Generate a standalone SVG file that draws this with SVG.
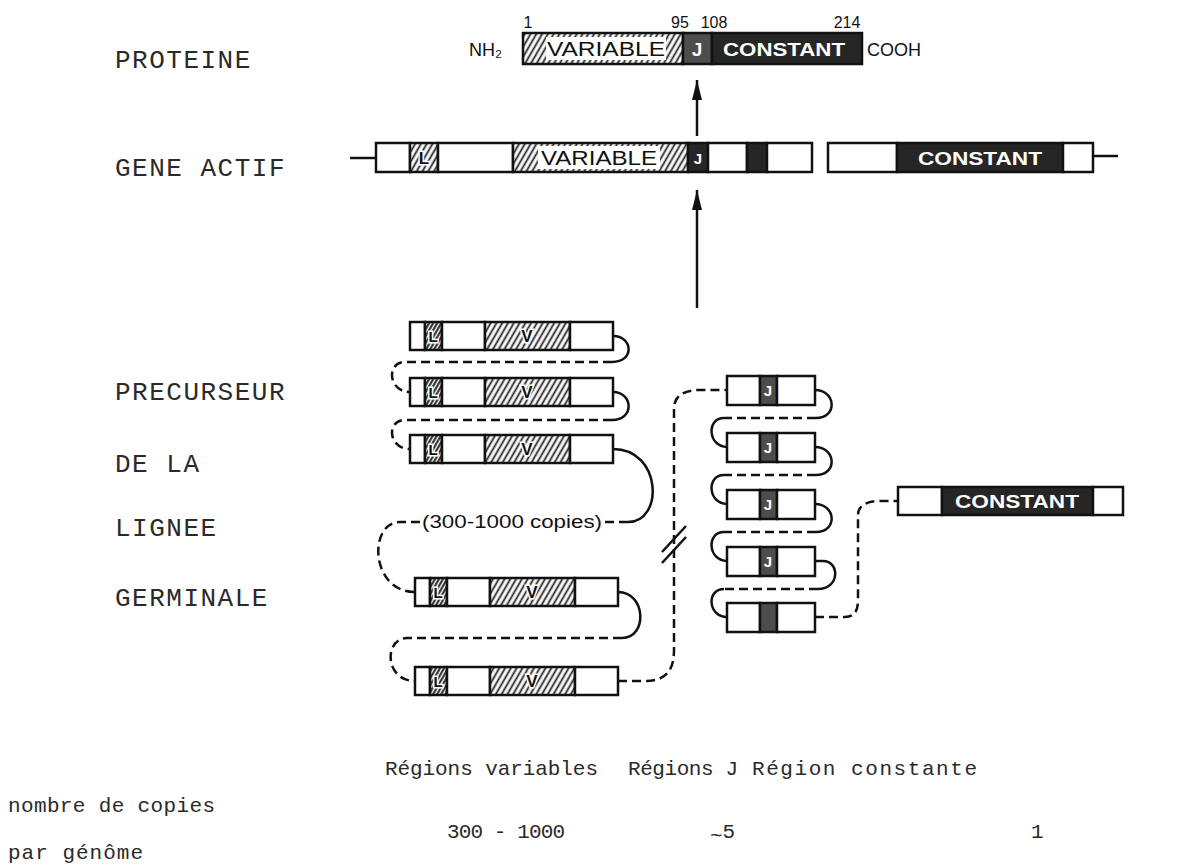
<svg xmlns="http://www.w3.org/2000/svg" width="1196" height="866" viewBox="0 0 1196 866">
<defs>
<pattern id="hatch" patternUnits="userSpaceOnUse" width="5" height="5" patternTransform="rotate(30)">
<rect width="5" height="5" fill="#fff"/>
<line x1="1.5" y1="0" x2="1.5" y2="5" stroke="#222" stroke-width="1.8"/>
</pattern>
<pattern id="hatchd" patternUnits="userSpaceOnUse" width="3.5" height="3.5" patternTransform="rotate(30)">
<rect width="3.5" height="3.5" fill="#fff"/>
<line x1="1.2" y1="0" x2="1.2" y2="3.5" stroke="#222" stroke-width="2"/>
</pattern>
<marker id="ah" viewBox="0 0 20 12" refX="20" refY="6" markerWidth="20" markerHeight="12" markerUnits="userSpaceOnUse" orient="auto">
<path d="M0,1 L20,6 L0,11 z" fill="#111"/>
</marker>
</defs>
<style>
.w{fill:#fff;stroke:#111;stroke-width:2.5}
.h{fill:url(#hatch);stroke:#111;stroke-width:2.5}
.hd{fill:url(#hatchd);stroke:#111;stroke-width:2.5}
.d{fill:#262626;stroke:#111;stroke-width:2.5}
.m{fill:#4d4d4d;stroke:#111;stroke-width:2.5}
.sol{fill:none;stroke:#111;stroke-width:2.5}
.das{fill:none;stroke:#111;stroke-width:2.5;stroke-dasharray:9 5}
.lbl{font-family:"Liberation Mono",monospace;font-size:26px;letter-spacing:1.5px;fill:#2a2a2a}
.bot{font-family:"Liberation Mono",monospace;font-size:21px;fill:#2a2a2a}
.num{font-family:"Liberation Sans",Arial,sans-serif;font-size:16px;fill:#111}
.big{font-family:"Liberation Sans",Arial,sans-serif;font-size:18px;fill:#111}
.var{font-family:"Liberation Sans",Arial,sans-serif;font-size:20px;fill:#111}
.wt{font-family:"Liberation Sans",Arial,sans-serif;font-size:19px;font-weight:bold;fill:#fff}
.wj{font-family:"Liberation Sans",Arial,sans-serif;font-size:15px;font-weight:bold;fill:#fff}
.sm{font-family:"Liberation Sans",Arial,sans-serif;font-size:17px;font-weight:bold;fill:#111;stroke:#fff;stroke-width:3;paint-order:stroke}
.sl{font-family:"Liberation Sans",Arial,sans-serif;font-size:15px;font-weight:bold;fill:#111;stroke:#fff;stroke-width:3;paint-order:stroke}
</style>
<rect width="1196" height="866" fill="#fff"/>

<g id="labels">
<text class="lbl" x="115" y="68">PROTEINE</text>
<text class="lbl" x="115" y="176">GENE ACTIF</text>
<text class="lbl" x="115" y="400">PRECURSEUR</text>
<text class="lbl" x="115" y="472">DE LA</text>
<text class="lbl" x="115" y="536">LIGNEE</text>
<text class="lbl" x="115" y="606">GERMINALE</text>
<text class="bot" x="385" y="775" textLength="213">Régions variables</text>
<text class="bot" x="628" y="775" textLength="110">Régions J</text>
<text class="bot" x="752" y="775" textLength="225">Région constante</text>
<text class="bot" x="8" y="812" textLength="207">nombre de copies</text>
<text class="bot" x="8" y="859" textLength="135">par génôme</text>
<text class="bot" x="447" y="838" textLength="118">300 - 1000</text>
<text class="bot" x="710" y="838"><tspan dy="4">~</tspan><tspan dy="-4">5</tspan></text>
<text class="bot" x="1031" y="838">1</text>
</g>

<g id="proteine">
<rect class="h" x="523" y="33" width="160" height="31"/>
<rect x="546" y="37" width="120" height="23" fill="#fff"/>
<text class="var" x="606" y="56" text-anchor="middle" textLength="118" lengthAdjust="spacingAndGlyphs">VARIABLE</text>
<rect class="m" x="683" y="33" width="29" height="31"/>
<text class="wt" x="697" y="56" text-anchor="middle">J</text>
<rect class="d" x="712" y="33" width="150" height="31"/>
<text class="wt" x="784" y="56" text-anchor="middle" textLength="122" lengthAdjust="spacingAndGlyphs">CONSTANT</text>
<text class="num" x="528" y="28" text-anchor="middle">1</text>
<text class="num" x="680" y="28" text-anchor="middle">95</text>
<text class="num" x="714" y="28" text-anchor="middle">108</text>
<text class="num" x="847" y="28" text-anchor="middle">214</text>
<text class="big" x="469" y="56">NH₂</text>
<text class="big" x="867" y="56">COOH</text>
</g>

<g id="gene-actif">
<line class="sol" x1="350" y1="158" x2="376" y2="158"/>
<rect class="w" x="376" y="143" width="34" height="29"/>
<rect class="h" x="410" y="143" width="28" height="29"/>
<text class="sm" x="424" y="164" text-anchor="middle">L</text>
<rect class="w" x="438" y="143" width="75" height="29"/>
<rect class="h" x="513" y="143" width="175" height="29"/>
<rect x="538" y="146" width="122" height="23" fill="#fff"/>
<text class="var" x="599" y="165" text-anchor="middle" textLength="116" lengthAdjust="spacingAndGlyphs">VARIABLE</text>
<rect class="d" x="688" y="143" width="20" height="29"/>
<text class="wj" x="698" y="164" text-anchor="middle">J</text>
<rect class="w" x="708" y="143" width="39" height="29"/>
<rect class="d" x="747" y="143" width="20" height="29"/>
<rect class="w" x="767" y="143" width="45" height="29"/>
<rect class="w" x="828" y="143" width="69" height="29"/>
<rect class="d" x="897" y="143" width="166" height="29"/>
<text class="wt" x="980" y="165" text-anchor="middle" textLength="124" lengthAdjust="spacingAndGlyphs">CONSTANT</text>
<rect class="w" x="1063" y="143" width="30" height="29"/>
<line class="sol" x1="1093" y1="156" x2="1118" y2="156"/>
</g>

<g id="v1">
<rect class="w" x="410" y="322" width="15" height="28"/>
<rect class="hd" x="425" y="322" width="17" height="28"/>
<text class="sl" x="433" y="342" text-anchor="middle">L</text>
<rect class="w" x="442" y="322" width="43" height="28"/>
<rect class="h" x="485" y="322" width="85" height="28"/>
<text class="sm" x="527" y="342" text-anchor="middle">V</text>
<rect class="w" x="570" y="322" width="43" height="28"/>
</g>
<g id="v2">
<rect class="w" x="410" y="378" width="15" height="28"/>
<rect class="hd" x="425" y="378" width="17" height="28"/>
<text class="sl" x="433" y="398" text-anchor="middle">L</text>
<rect class="w" x="442" y="378" width="43" height="28"/>
<rect class="h" x="485" y="378" width="85" height="28"/>
<text class="sm" x="527" y="398" text-anchor="middle">V</text>
<rect class="w" x="570" y="378" width="43" height="28"/>
</g>
<g id="v3">
<rect class="w" x="410" y="435" width="15" height="28"/>
<rect class="hd" x="425" y="435" width="17" height="28"/>
<text class="sl" x="433" y="455" text-anchor="middle">L</text>
<rect class="w" x="442" y="435" width="43" height="28"/>
<rect class="h" x="485" y="435" width="85" height="28"/>
<text class="sm" x="527" y="455" text-anchor="middle">V</text>
<rect class="w" x="570" y="435" width="43" height="28"/>
</g>
<g id="v4">
<rect class="w" x="415" y="578" width="15" height="28"/>
<rect class="hd" x="430" y="578" width="17" height="28"/>
<text class="sl" x="438" y="598" text-anchor="middle">L</text>
<rect class="w" x="447" y="578" width="43" height="28"/>
<rect class="h" x="490" y="578" width="85" height="28"/>
<text class="sm" x="532" y="598" text-anchor="middle">V</text>
<rect class="w" x="575" y="578" width="43" height="28"/>
</g>
<g id="v5">
<rect class="w" x="415" y="667" width="15" height="28"/>
<rect class="hd" x="430" y="667" width="17" height="28"/>
<text class="sl" x="438" y="687" text-anchor="middle">L</text>
<rect class="w" x="447" y="667" width="43" height="28"/>
<rect class="h" x="490" y="667" width="85" height="28"/>
<text class="sm" x="532" y="687" text-anchor="middle">V</text>
<rect class="w" x="575" y="667" width="43" height="28"/>
</g>

<g id="j1">
<rect class="w" x="727" y="376" width="33" height="29"/>
<rect class="m" x="760" y="376" width="17" height="29"/>
<text class="wj" x="768" y="396" text-anchor="middle">J</text>
<rect class="w" x="777" y="376" width="38" height="29"/>
</g>
<g id="j2">
<rect class="w" x="727" y="433" width="33" height="29"/>
<rect class="m" x="760" y="433" width="17" height="29"/>
<text class="wj" x="768" y="453" text-anchor="middle">J</text>
<rect class="w" x="777" y="433" width="38" height="29"/>
</g>
<g id="j3">
<rect class="w" x="727" y="490" width="33" height="29"/>
<rect class="m" x="760" y="490" width="17" height="29"/>
<text class="wj" x="768" y="510" text-anchor="middle">J</text>
<rect class="w" x="777" y="490" width="38" height="29"/>
</g>
<g id="j4">
<rect class="w" x="727" y="547" width="33" height="29"/>
<rect class="m" x="760" y="547" width="17" height="29"/>
<text class="wj" x="768" y="567" text-anchor="middle">J</text>
<rect class="w" x="777" y="547" width="38" height="29"/>
</g>
<g id="j5">
<rect class="w" x="727" y="603" width="33" height="29"/>
<rect class="m" x="760" y="603" width="17" height="29"/>
<rect class="w" x="777" y="603" width="38" height="29"/>
</g>

<g id="constante">
<rect class="w" x="898" y="487" width="44" height="28"/>
<rect class="d" x="942" y="487" width="151" height="28"/>
<text class="wt" x="1017" y="508" text-anchor="middle" textLength="124" lengthAdjust="spacingAndGlyphs">CONSTANT</text>
<rect class="w" x="1093" y="487" width="30" height="28"/>
</g>

<g id="connectors">
<line class="sol" x1="697" y1="136" x2="697" y2="80" marker-end="url(#ah)"/>
<line class="sol" x1="697" y1="308" x2="697" y2="190" marker-end="url(#ah)"/>
<path class="sol" d="M613,336 C633,336 635,362 612,362"/>
<path class="das" d="M612,362 L405,362 C386,362 388,392 410,392"/>
<path class="sol" d="M613,392 C633,392 635,420 612,420"/>
<path class="das" d="M612,420 L405,420 C386,420 388,449 410,449"/>
<path class="sol" d="M613,449 C662,449 664,522 628,522"/>
<path class="das" d="M628,522 L604,522"/>
<text class="big" x="512" y="528" text-anchor="middle" textLength="180" lengthAdjust="spacingAndGlyphs">(300-1000 copies)</text>
<path class="das" d="M420,522 L400,522 C368,522 370,592 415,592"/>
<path class="sol" d="M618,592 C646,592 648,638 622,638"/>
<path class="das" d="M622,638 L407,638 C384,638 384,681 415,681"/>
<path class="das" d="M618,681 L645,681 C668,681 674,668 674,650 L674,408 C674,396 684,390 700,390 L727,390"/>
<line class="sol" x1="662" y1="552" x2="686" y2="526"/>
<line class="sol" x1="662" y1="563" x2="686" y2="537"/>
<path class="sol" d="M815,390 C836,390 838,418 816,418"/>
<path class="das" d="M816,418 L724,418"/>
<path class="sol" d="M724,418 C706,418 708,447 727,447"/>
<path class="sol" d="M815,447 C836,447 838,475 816,475"/>
<path class="das" d="M816,475 L724,475"/>
<path class="sol" d="M724,475 C706,475 708,504 727,504"/>
<path class="sol" d="M815,504 C836,504 838,532 816,532"/>
<path class="das" d="M816,532 L724,532"/>
<path class="sol" d="M724,532 C706,532 708,561 727,561"/>
<path class="sol" d="M815,561 L823,561 C840,561 840,589 818,589"/>
<path class="das" d="M818,589 L724,589"/>
<path class="sol" d="M724,589 C706,589 708,617 727,617"/>
<path class="das" d="M815,617 L845,617 C855,617 858,610 858,600 L858,515 C858,506 866,501 880,501 L898,501"/>
</g>
</svg>
